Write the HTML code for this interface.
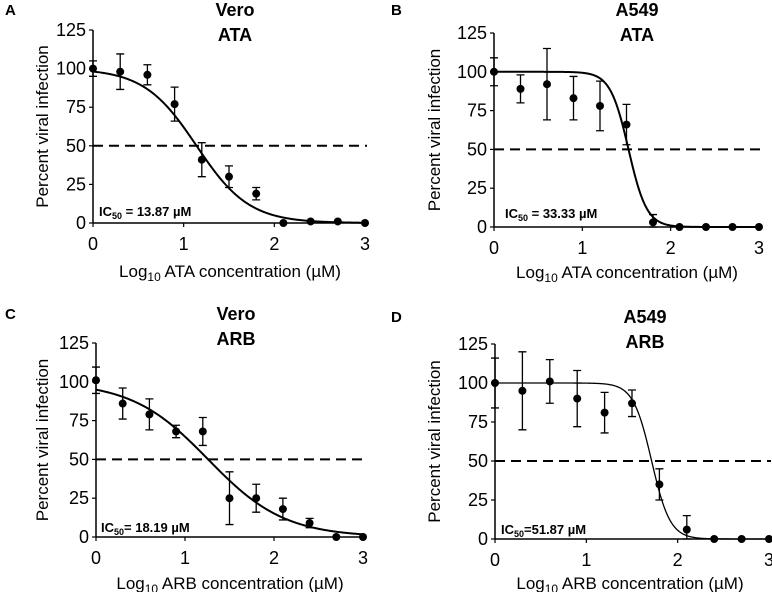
<!DOCTYPE html>
<html><head><meta charset="utf-8"><style>
html,body{margin:0;padding:0;background:#fff;}
svg{display:block;font-family:"Liberation Sans",sans-serif;}
</style></head><body>
<svg id="chart" width="772" height="592" viewBox="0 0 772 592" xmlns="http://www.w3.org/2000/svg"></svg>
<script>
const xValues = [0,0.3,0.6,0.9,1.2,1.5,1.8,2.1,2.4,2.7,3];
const yTicks = [0,25,50,75,100,125];
const xTicks = [0,1,2,3];
const valuesA = [100,98,96,77,41,30,19,0,1,1,0];
const errorsA = [5,11.5,6.5,11,11,7,4,0,0,0,0];
const valuesB = [100,89,92,83,78,66,3,0,0,0,0];
const errorsB = [9,9,23,14,16,13,5,0,0,0,0];
const valuesC = [101,86,79,68,68,25,25,18,9,0,0];
const errorsC = [8.5,10,10,4,9,17,9,7,3,0,0];
const valuesD = [100,95,101,90,81,87,35,6,0,0,0];
const errorsD = [16,25,14,18,13,8.5,10,9,0,0,0];
const logIC50 = [1.142,1.523,1.26,1.715];
const hillSlopes = [1.5,4.2,1.01,4.3];
const icLabels = [" = 13.87 µM"," = 33.33 µM","= 18.19 µM","=51.87 µM"];
const cellLines = ["Vero","A549","Vero","A549"];
const drugs = ["ATA","ATA","ARB","ARB"];
const letters = ["A","B","C","D"];

const panels = [
 {x0:93,x3:365,y0:223,y125:30,vals:valuesA,errs:errorsA,lw:2,tx:235,ty:16,lx:48,xl:230,xly:289,icx:99,icy:216},
 {x0:494,x3:759,y0:227,y125:33,vals:valuesB,errs:errorsB,lw:2,tx:637,ty:16,lx:440,xl:627,xly:290,icx:505,icy:218},
 {x0:96,x3:363,y0:537,y125:343,vals:valuesC,errs:errorsC,lw:2,tx:236,ty:320,lx:48,xl:230,xly:601,icx:101,icy:532},
 {x0:495,x3:769,y0:539,y125:344,vals:valuesD,errs:errorsD,lw:1.3,tx:645,ty:323,lx:440,xl:630,xly:601,icx:501,icy:534}
];
const svg = document.getElementById('chart');
const NS = "http://www.w3.org/2000/svg";
function mk(tag, attrs, parent){const e=document.createElementNS(NS,tag);for(const k in attrs)e.setAttribute(k,attrs[k]);(parent||svg).appendChild(e);return e;}
panels.forEach((p,i)=>{
  const g = mk('g',{});
  
  
  const sx = v => p.x0 + (p.x3-p.x0)*v/3;
  const sy = v => p.y0 - (p.y0-p.y125)*v/125;
  const letter = mk('text',{x:i%2?391:5,y:p.ty-1,'font-size':15,'font-weight':'bold'},g); letter.textContent=letters[i];
   
  const t1 = mk('text',{x:p.tx,y:p.ty,'font-size':18,'font-weight':'bold','text-anchor':'middle'},g); t1.textContent=cellLines[i];
   
  const t2 = mk('text',{x:p.tx,y:p.ty+25,'font-size':18,'font-weight':'bold','text-anchor':'middle'},g); t2.textContent=drugs[i];
   
  const ya = mk('line',{x1:p.x0,y1:p.y125,x2:p.x0,y2:p.y0,stroke:'#000','stroke-width':1.5},g);
   
  const xa = mk('line',{x1:p.x0,y1:p.y0,x2:p.x3,y2:p.y0,stroke:'#000','stroke-width':1.5},g);
   
  yTicks.forEach(v=>{
    mk('line',{x1:p.x0-4,y1:sy(v),x2:p.x0,y2:sy(v),stroke:'#000','stroke-width':1.2},g);
    const tl = mk('text',{x:p.x0-7,y:sy(v)+6,'font-size':18,'text-anchor':'end'},g); tl.textContent=v;
     
  });
  xTicks.forEach(v=>{
    mk('line',{x1:sx(v),y1:p.y0,x2:sx(v),y2:p.y0+4,stroke:'#000','stroke-width':1.2},g);
    const tl = mk('text',{x:sx(v),y:p.y0+27,'font-size':18,'text-anchor':'middle'},g); tl.textContent=v;
     
  });
  const yl = mk('text',{x:0,y:0,'font-size':17,'text-anchor':'middle',transform:`translate(${p.lx},${(p.y0+p.y125)/2}) rotate(-90)`},g);
  yl.textContent='Percent viral infection';
   
  const xl = mk('text',{x:p.xl,y:p.xly-12,'font-size':17,'text-anchor':'middle'},g);
  xl.innerHTML = `Log<tspan font-size="12" dy="4">10</tspan><tspan dy="-4"> ${drugs[i]} concentration (µM)</tspan>`;
   
  const dl = mk('line',{x1:p.x0,y1:sy(50),x2:p.x3+2,y2:sy(50),stroke:'#000','stroke-width':2,'stroke-dasharray':'10,6'},g);
   
  let d='';
  for(let k=0;k<=300;k++){const x=3*k/300;const y=100/(1+Math.pow(10,(x-logIC50[i])*hillSlopes[i]));d+=(k?'L':'M')+sx(x).toFixed(2)+','+sy(y).toFixed(2);}
  const c = mk('path',{d:d,fill:'none',stroke:'#000','stroke-width':p.lw},g);
   
  xValues.forEach((xv,j)=>{
    const v=p.vals[j], e=p.errs[j];
    if(e>0){
      const X=sx(xv), top=sy(v+e), bot=sy(Math.max(0,v-e));
      const eb = mk('path',{d:`M${X},${top}L${X},${bot}M${X-4},${top}L${X+4},${top}M${X-4},${bot}L${X+4},${bot}`,stroke:'#000','stroke-width':1.3,fill:'none'},g);
       
    }
    const pt = mk('circle',{cx:sx(xv),cy:sy(v),r:4,fill:'#000'},g);
     
  });
  const ic = mk('text',{x:p.icx,y:p.icy,'font-size':13,'font-weight':'bold'},g);
  ic.innerHTML = `IC<tspan font-size="9" dy="3">50</tspan><tspan dy="-3">${icLabels[i]}</tspan>`;
   
});
</script>
</body></html>
